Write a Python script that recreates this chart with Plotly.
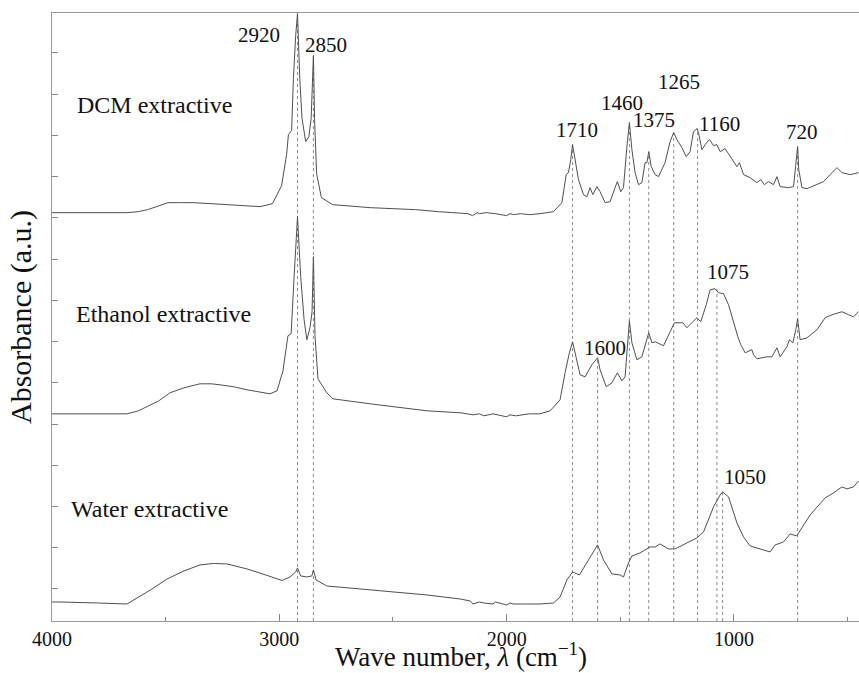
import plotly.graph_objects as go

# ---------------- data (wavenumber cm^-1, absorbance a.u.) ----------------
dcm_wn = [4000, 3965, 3800, 3670, 3620, 3580, 3540, 3490, 3440, 3380, 3300, 3230, 3150, 3085, 3030,
          2990, 2968, 2960, 2946, 2938, 2928,
          2920, 2910, 2900, 2884, 2870, 2860, 2850, 2845, 2836, 2815, 2765, 2600, 2500, 2400, 2300,
          2200, 2170, 2150, 2130, 2120, 2090, 2050, 2020, 2000, 1985, 1970, 1940, 1900, 1853, 1794,
          1757, 1738, 1728, 1718, 1710, 1699, 1684, 1662,
          1647, 1633, 1621, 1603, 1589, 1567, 1545, 1523, 1513, 1498, 1486, 1471, 1460, 1449, 1435,
          1420, 1405, 1391, 1383, 1375, 1364, 1347, 1332, 1303, 1281, 1265, 1251, 1229, 1210, 1193,
          1178, 1162, 1156, 1141, 1127, 1108, 1090, 1075, 1061, 1039, 1017, 987, 976, 958, 929, 899,
          882, 867, 848, 826, 811, 797, 760, 738, 729, 720, 715, 701, 679, 650, 606, 577, 547, 525,
          489, 452]
dcm_abs = [4.08, 4.08, 4.08, 4.08, 4.09, 4.11, 4.14, 4.18, 4.18, 4.18, 4.17, 4.16, 4.15, 4.14, 4.17,
           4.35, 4.66, 4.86, 4.90, 5.42, 5.85,
           6.07, 5.42, 5.02, 4.79, 4.84, 5.02, 5.65, 5.02, 4.47, 4.23, 4.16, 4.13, 4.12, 4.11, 4.09,
           4.08, 4.07, 4.05, 4.08, 4.07, 4.08, 4.07, 4.06, 4.05, 4.07, 4.06, 4.07, 4.06, 4.07, 4.09,
           4.18, 4.46, 4.48, 4.61, 4.76, 4.61, 4.41, 4.26,
           4.24, 4.33, 4.26, 4.34, 4.29, 4.18, 4.19, 4.33, 4.39, 4.29, 4.33, 4.74, 4.98, 4.71, 4.48,
           4.36, 4.38, 4.58, 4.58, 4.69, 4.54, 4.46, 4.44, 4.58, 4.79, 4.88, 4.81, 4.73, 4.64, 4.69,
           4.89, 4.92, 4.88, 4.71, 4.76, 4.81, 4.75, 4.76, 4.69, 4.72, 4.64, 4.54, 4.58, 4.46, 4.43, 4.38,
           4.41, 4.36, 4.39, 4.36, 4.44, 4.34, 4.33, 4.34, 4.54, 4.74, 4.51, 4.33, 4.32, 4.35, 4.39, 4.46,
           4.53, 4.48, 4.46, 4.48]

eth_wn = [4000, 3965, 3800, 3670, 3620, 3582, 3530, 3481, 3420, 3349, 3300, 3261, 3200, 3142, 3090,
          3041, 3010, 2984, 2962, 2948, 2935, 2925,
          2920, 2906, 2891, 2879, 2865, 2856, 2850, 2843, 2830, 2791, 2764, 2600, 2500, 2350, 2200,
          2148, 2120, 2100, 2060, 2000, 1985, 1960, 1900, 1853, 1809, 1765, 1743, 1724, 1710, 1699,
          1677, 1655, 1625, 1600, 1589, 1562,
          1537, 1513, 1493, 1479, 1467, 1460, 1449, 1427, 1405, 1386, 1375, 1361, 1347, 1310, 1281,
          1262, 1225, 1207, 1181, 1163, 1146, 1122, 1105, 1083, 1068, 1046, 1024, 1002, 983, 970, 951,
          921, 914, 899, 855, 833, 811, 797, 767, 756, 741, 728, 720, 709, 679, 635, 599, 569, 525,
          496, 474, 452]
eth_abs = [2.07, 2.07, 2.07, 2.07, 2.10, 2.14, 2.20, 2.28, 2.33, 2.37, 2.37, 2.36, 2.34, 2.31, 2.29,
           2.27, 2.30, 2.50, 2.85, 2.87, 3.44, 3.84,
           4.04, 3.44, 3.01, 2.81, 2.93, 3.09, 3.64, 2.85, 2.42, 2.28, 2.22, 2.17, 2.14, 2.10, 2.08,
           2.06, 2.07, 2.05, 2.07, 2.04, 2.06, 2.05, 2.07, 2.07, 2.10, 2.21, 2.48, 2.68, 2.79, 2.68,
           2.46, 2.44, 2.56, 2.63, 2.51, 2.34,
           2.38, 2.48, 2.40, 2.44, 2.84, 3.00, 2.78, 2.61, 2.64, 2.78, 2.88, 2.78, 2.79, 2.75, 2.89,
           2.98, 2.98, 2.93, 2.99, 3.03, 2.99, 3.16, 3.31, 3.32, 3.28, 3.27, 3.16, 2.98, 2.84, 2.76, 2.68,
           2.71, 2.66, 2.62, 2.64, 2.64, 2.73, 2.64, 2.74, 2.81, 2.78, 2.91, 3.02, 2.81, 2.83, 2.91, 3.03,
           3.06, 3.09, 3.06, 3.04, 3.09]

wat_wn = [4000, 3965, 3800, 3670, 3626, 3560, 3494, 3420, 3349, 3290, 3230, 3142, 3060, 2988, 2953,
          2928, 2920, 2906, 2879, 2857,
          2850, 2838, 2791, 2600, 2500, 2350, 2205, 2160, 2148, 2120, 2100, 2060, 2050, 2000, 1985,
          1972, 1920, 1853, 1794, 1765, 1735,
          1710, 1680, 1647, 1600, 1574, 1537, 1501, 1486, 1464, 1449, 1413, 1369, 1347, 1325, 1288,
          1259, 1207, 1163, 1134, 1090, 1061, 1050, 1024, 987, 958, 929, 885, 841, 819, 782, 753, 724,
          665, 636, 599, 562, 525, 503, 474, 452]
wat_abs = [0.19, 0.19, 0.18, 0.17, 0.23, 0.32, 0.42, 0.50, 0.56, 0.575, 0.57, 0.52, 0.46, 0.405, 0.44,
           0.49, 0.53, 0.45, 0.44, 0.45,
           0.51, 0.41, 0.35, 0.31, 0.29, 0.26, 0.22, 0.20, 0.17, 0.19, 0.18, 0.17, 0.19, 0.16, 0.18,
           0.17, 0.17, 0.17, 0.18, 0.24, 0.41,
           0.49, 0.46, 0.58, 0.76, 0.61, 0.47, 0.46, 0.44, 0.58, 0.65, 0.68, 0.74, 0.74, 0.77, 0.72,
           0.72, 0.78, 0.83, 0.89, 1.14, 1.26, 1.29, 1.24, 0.98, 0.84, 0.75, 0.72, 0.69, 0.76, 0.79, 0.87, 0.85,
           1.06, 1.13, 1.23, 1.28, 1.34, 1.32, 1.34, 1.40]

# marked bands: wavenumber, top of dotted guide line (absorbance)
band_wn = [2920, 2850, 1710, 1600, 1460, 1375, 1265, 1160, 1075, 1050, 720]
band_top = [6.07, 5.65, 4.76, 2.63, 4.98, 4.69, 4.88, 4.92, 3.32, 1.29, 4.74]
band_labels = ["2920", "2850", "1710", "1600", "1460", "1375", "1265", "1160", "1075", "1050", "720"]

series_names = ["DCM extractive", "Ethanol extractive", "Water extractive"]
x_tick_vals = [4000, 3000, 2000, 1000]
x_tick_text = ["4000", "3000", "2000", "1000"]

# ---------------- label placement ----------------
band_label_pos = {  # label centre (wavenumber, absorbance)
    "2920": (3089, 5.86), "2850": (2794, 5.76), "1710": (1691, 4.91), "1460": (1493, 5.18),
    "1375": (1351, 5.01), "1265": (1241, 5.39), "1160": (1062, 4.97), "720": (701, 4.89),
    "1075": (1028, 3.49), "1600": (1569, 2.73), "1050": (951, 1.44),
}
series_label_pos = [(3899, 5.16), (3903, 3.07), (3925, 1.12)]

FONT = "Liberation Serif, Times New Roman, serif"
CURVE = "#505050"
GUIDE = "#8a8a8a"

fig = go.Figure()

for w, t in zip(band_wn, band_top):
    fig.add_trace(go.Scatter(x=[w, w], y=[0, t], mode="lines",
                             line=dict(color=GUIDE, width=1, dash="dot"),
                             hoverinfo="skip", showlegend=False))

for name, xs, ys in zip(series_names, [dcm_wn, eth_wn, wat_wn], [dcm_abs, eth_abs, wat_abs]):
    fig.add_trace(go.Scatter(x=xs, y=ys, mode="lines", name=name,
                             line=dict(color=CURVE, width=1), showlegend=False))

annotations = []
for lab in band_labels:
    x, y = band_label_pos[lab]
    annotations.append(dict(x=x, y=y, text=lab, showarrow=False, xanchor="center", yanchor="middle",
                            font=dict(family=FONT, size=21, color="#111")))
for name, (x, y) in zip(series_names, series_label_pos):
    annotations.append(dict(x=x, y=y, text=name, showarrow=False, xanchor="left", yanchor="middle",
                            font=dict(family=FONT, size=24, color="#111")))

# x-axis title as an annotation anchored at the bottom edge of the figure
annotations.append(dict(x=0.507, y=0, xref="paper", yref="paper",
                        yanchor="bottom", xanchor="center", yshift=-53, showarrow=False,
                        text="Wave number, <i>λ</i> (cm<sup>−1</sup>)",
                        font=dict(family=FONT, size=27, color="#111")))

fig.update_layout(
    width=859, height=673,
    margin=dict(l=52, r=0, t=13, b=52),
    paper_bgcolor="white", plot_bgcolor="white",
    font=dict(family=FONT, color="#111"),
    annotations=annotations,
    xaxis=dict(
        range=[4000, 450], autorange=False,
        tickvals=x_tick_vals, ticktext=x_tick_text,
        ticks="inside", ticklen=7, tickcolor="#888", tickwidth=1,
        minor=dict(ticks="inside", ticklen=4, dtick=500, tick0=0, tickcolor="#888", showgrid=False),
        showline=True, linecolor="#999", linewidth=1, mirror=True,
        showgrid=False, zeroline=False,
        tickfont=dict(family=FONT, size=20, color="#111"),
    ),
    yaxis=dict(
        range=[0, 6.075], autorange=False,
        tick0=0.32, dtick=0.412, tickmode="linear",
        ticks="inside", ticklen=6, tickcolor="#888", tickwidth=1,
        showticklabels=False,
        showline=True, linecolor="#999", linewidth=1,
        showgrid=False, zeroline=False,
        title=dict(text="Absorbance (a.u.)", font=dict(family=FONT, size=30, color="#111"), standoff=10),
    ),
)

fig.write_html("out.html")
